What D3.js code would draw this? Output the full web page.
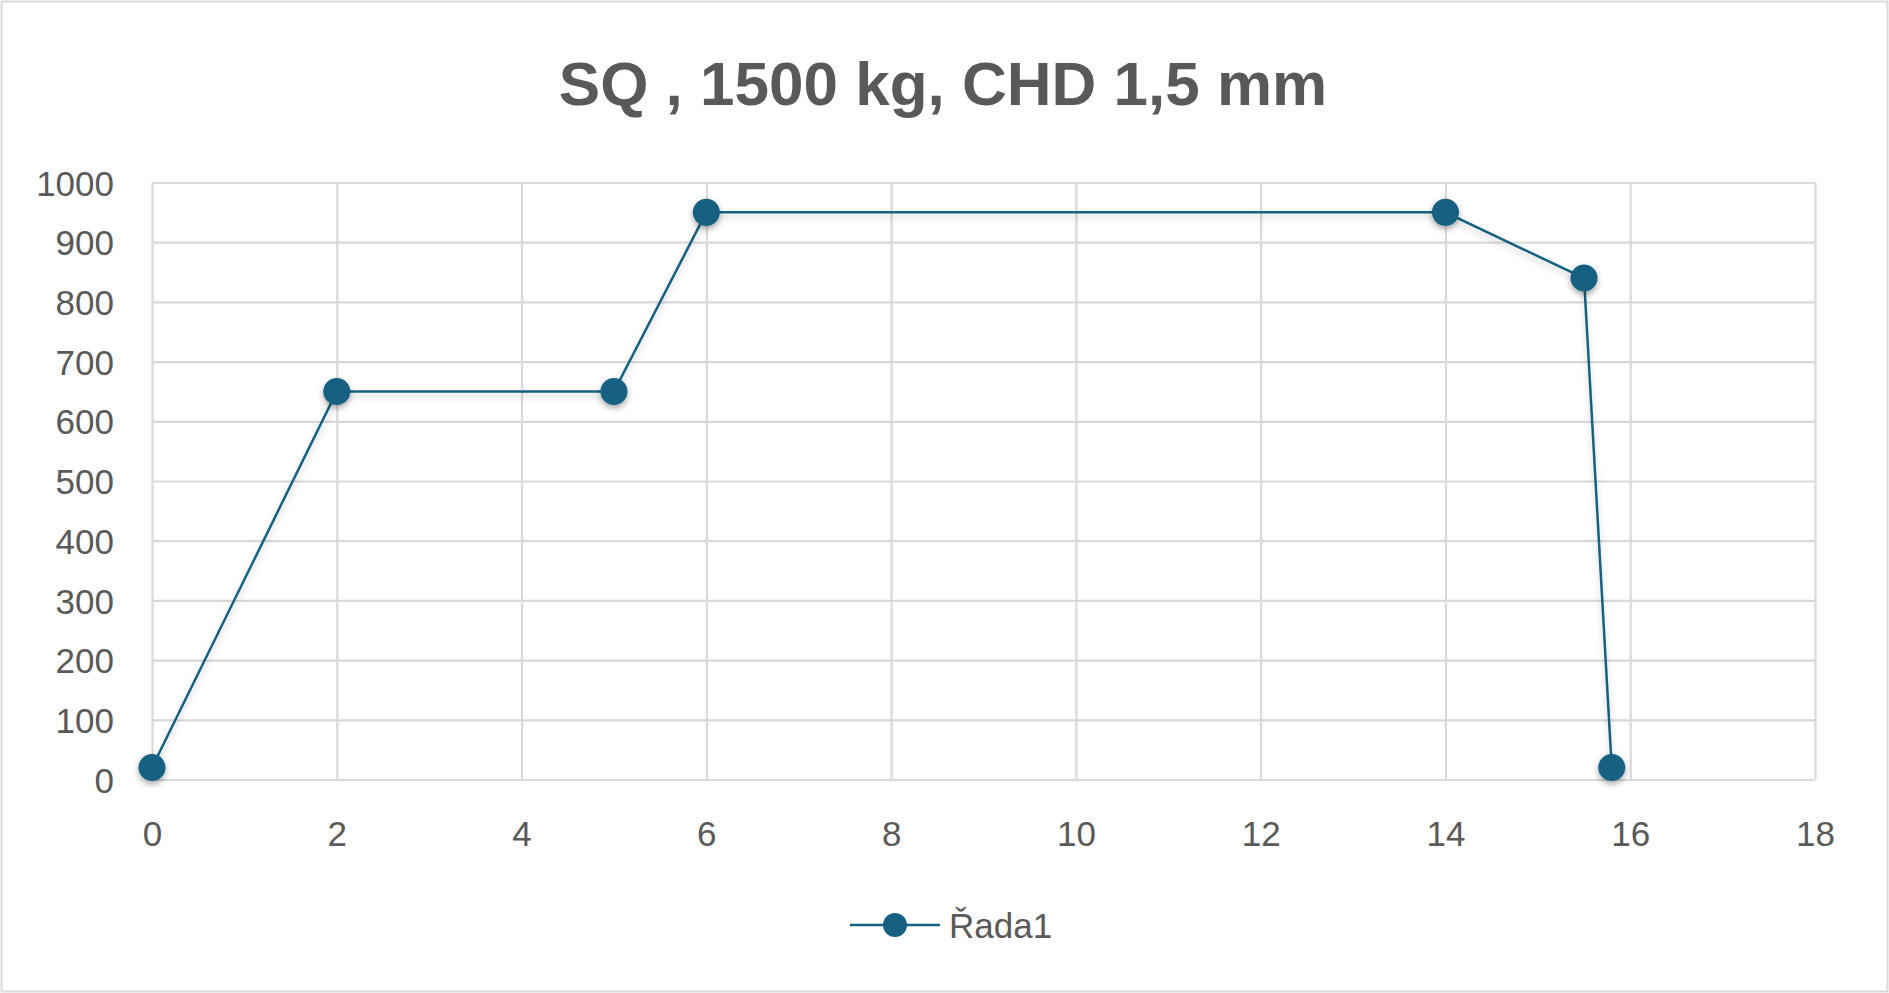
<!DOCTYPE html>
<html><head><meta charset="utf-8">
<script src="https://cdn.jsdelivr.net/npm/d3@7"></script>
<style>html,body{margin:0;padding:0;background:#fff;}svg{display:block;}</style>
</head><body>
<script>
const title = "SQ , 1500 kg, CHD 1,5 mm";
const seriesName = "Řada1";
const xValues = [0, 2, 5, 6, 14, 15.5, 15.8];
const yValues = [20, 650, 650, 950, 950, 840, 20];
const xTicks = [0, 2, 4, 6, 8, 10, 12, 14, 16, 18];
const yTicks = [0, 100, 200, 300, 400, 500, 600, 700, 800, 900, 1000];

const W = 1889, H = 993;
const m = {left: 152, right: 1815, top: 182.5, bottom: 779.5};
const color = "#156082";
const textColor = "#595959";
const gridColor = "#d9d9d9";
const font = "'Liberation Sans', Arial, sans-serif";

const svg = d3.select("body").append("svg").attr("width", W).attr("height", H);
const defs = svg.append("defs");
const f = defs.append("filter").attr("id","sh").attr("x","-50%").attr("y","-50%").attr("width","200%").attr("height","200%");
f.append("feDropShadow").attr("dx",0).attr("dy",3).attr("stdDeviation",3).attr("flood-color","#000").attr("flood-opacity",0.35);
const fl = defs.append("filter").attr("id","shl").attr("x","-10%").attr("y","-10%").attr("width","120%").attr("height","120%");
fl.append("feDropShadow").attr("dx",0).attr("dy",4).attr("stdDeviation",3).attr("flood-color","#000").attr("flood-opacity",0.2);

svg.append("rect").attr("x",1.5).attr("y",1.5).attr("width",W-3).attr("height",H-3)
  .attr("fill","#fff").attr("stroke",gridColor).attr("stroke-width",2);

const x = d3.scaleLinear().domain([0,18]).range([m.left, m.right]);
const y = d3.scaleLinear().domain([0,1000]).range([m.bottom, m.top]);

const gx = svg.append("g").attr("transform",`translate(0,${m.bottom})`)
  .call(d3.axisBottom(x).tickValues(xTicks).tickSize(-(m.bottom-m.top)).tickFormat(d=>d).tickPadding(42));
gx.select(".domain").remove();
gx.selectAll(".tick line").attr("stroke",gridColor).attr("stroke-width",2.2);
gx.selectAll(".tick text").attr("fill",textColor).style("font-family",font).style("font-size","35px").attr("dy","0.71em");

const gy = svg.append("g").attr("transform",`translate(${m.left},0)`)
  .call(d3.axisLeft(y).tickValues(yTicks).tickSize(-(m.right-m.left)).tickFormat(d=>d).tickPadding(38));
gy.select(".domain").remove();
gy.selectAll(".tick line").attr("stroke",gridColor).attr("stroke-width",2.2);
gy.selectAll(".tick text").attr("fill",textColor).style("font-family",font).style("font-size","35px").attr("dy","0.36em");

const data = xValues.map((v,i)=>({x:v,y:yValues[i]}));
const line = d3.line().x(d=>x(d.x)).y(d=>y(d.y));
svg.append("path").datum(data).attr("d",line).attr("fill","none")
  .attr("stroke",color).attr("stroke-width",2.5).attr("filter","url(#shl)");
svg.append("g").selectAll("circle").data(data).join("circle")
  .attr("cx",d=>x(d.x)).attr("cy",d=>y(d.y)).attr("r",13.5)
  .attr("fill",color).attr("filter","url(#sh)");

svg.append("text").attr("x",943).attr("y",105).attr("text-anchor","middle")
  .attr("fill",textColor).style("font-family",font).style("font-weight","bold").style("font-size","62px")
  .text(title);

const lg = svg.append("g");
lg.append("line").attr("x1",850).attr("x2",940).attr("y1",925).attr("y2",925).attr("stroke",color).attr("stroke-width",2.5);
lg.append("circle").attr("cx",895).attr("cy",925).attr("r",12).attr("fill",color);
lg.append("text").attr("x",949).attr("y",938).attr("fill",textColor)
  .style("font-family",font).style("font-size","35px").text(seriesName);
</script>
</body></html>
